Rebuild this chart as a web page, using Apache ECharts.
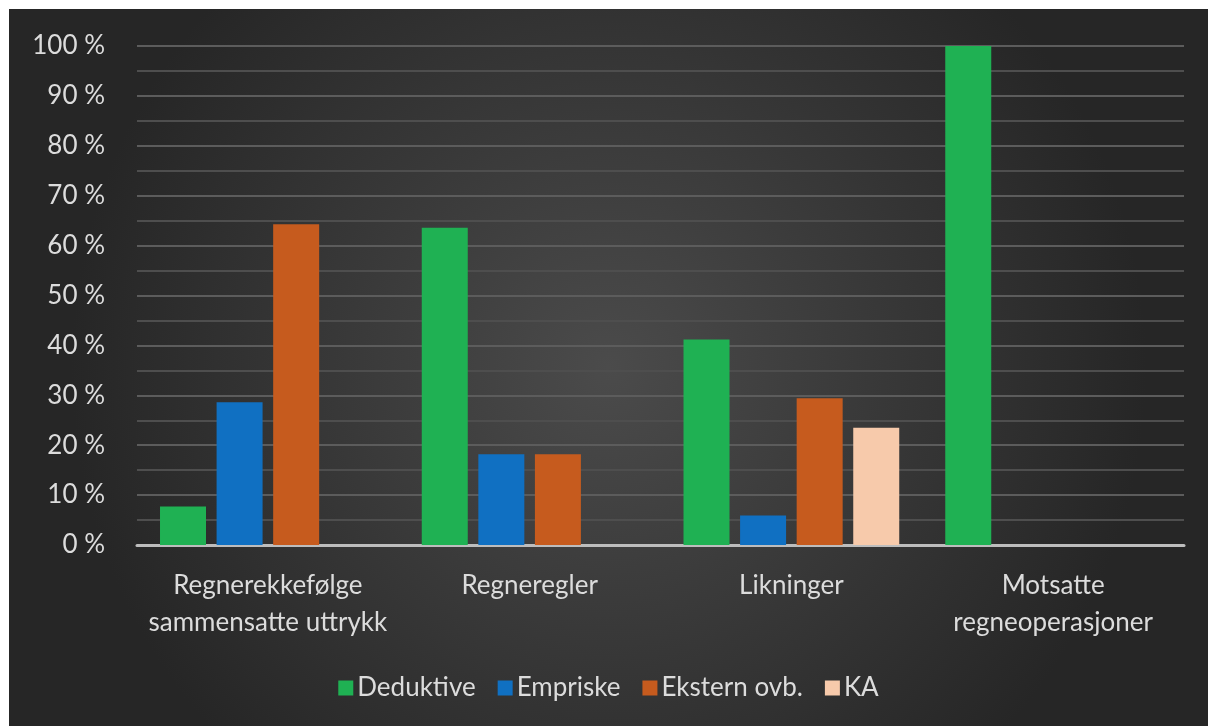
<!DOCTYPE html>
<html>
<head>
<meta charset="utf-8">
<script src="https://cdn.jsdelivr.net/npm/echarts@6/dist/echarts.min.js"></script>
<style>
  html, body { margin: 0; padding: 0; background: #ffffff; }
  #chart { position: absolute; left: 9px; top: 9px; width: 1199px; height: 717px; }
</style>
</head>
<body>
<div id="chart"></div>
<script>
// Andel oppgaver per kategori og argumentasjonstype
const categories = ['Regnerekkefølge\nsammensatte uttrykk', 'Regneregler', 'Likninger', 'Motsatte\nregneoperasjoner'];
const deduktive = [7.7, 63.6, 41.2, 100];
const empriske = [28.6, 18.2, 5.9, 0];
const eksternOvb = [64.3, 18.2, 29.4, 0];
const ka = [0, 0, 23.5, 0];
const seriesNames = ['Deduktive', 'Empriske', 'Ekstern ovb.', 'KA'];
const colors = ['#1fb153', '#1070c2', '#c65b1e', '#f7caab'];

const font = 'Lato, "Open Sans", sans-serif';
const textColor = '#dcdcdc';

const chart = echarts.init(document.getElementById('chart'));
const values = [deduktive, empriske, eksternOvb, ka];

chart.setOption({
  backgroundColor: {
    type: 'radial', x: 0.5, y: 0.5, r: 0.75,
    colorStops: [
      { offset: 0, color: '#4b4b4b' },
      { offset: 1, color: '#262626' }
    ]
  },
  animation: false,
  grid: { left: 128, right: 24, top: 37, bottom: 181, containLabel: false },
  legend: {
    bottom: 20,
    left: 'center',
    itemWidth: 15,
    itemHeight: 15,
    itemGap: 22,
    icon: 'rect',
    textStyle: { color: textColor, fontSize: 26, fontFamily: font, padding: [0, 0, 0, -1], letterSpacing: 0.6 },
    data: seriesNames
  },
  xAxis: {
    type: 'category',
    data: categories,
    axisLine: { lineStyle: { color: '#bdbdbd', width: 3 } },
    axisTick: { show: false },
    axisLabel: {
      color: textColor, fontSize: 26, fontFamily: font,
      lineHeight: 37, margin: 22, interval: 0
    }
  },
  yAxis: {
    type: 'value',
    min: 0, max: 100, interval: 10,
    axisLine: { show: false },
    axisTick: { show: false },
    axisLabel: {
      color: textColor, fontSize: 26, fontFamily: font, margin: 32,
      formatter: '{value} %'
    },
    splitLine: { lineStyle: { color: '#5c5c5c', width: 2 } },
    minorTick: { show: false, splitNumber: 2 },
    minorSplitLine: { show: true, lineStyle: { color: '#4e4e4e', width: 2 } }
  },
  series: seriesNames.map((name, i) => ({
    name,
    type: 'bar',
    data: values[i],
    barWidth: 46,
    barGap: '23%',
    itemStyle: { color: colors[i] }
  }))
});
</script>
</body>
</html>
